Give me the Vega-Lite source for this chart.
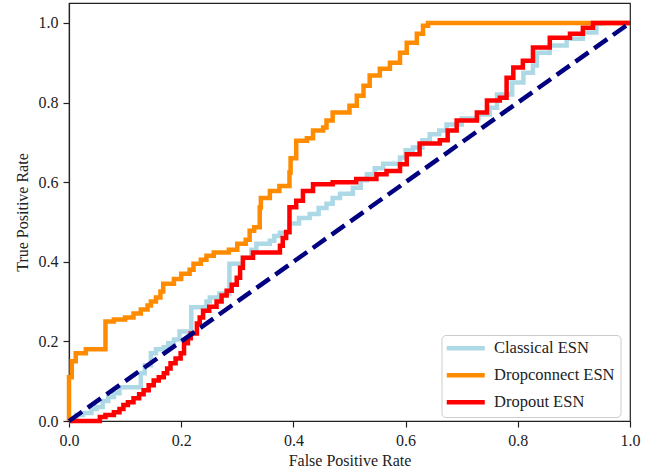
{
  "$schema": "https://vega.github.io/schema/vega-lite/v6.json",
  "width": 561,
  "height": 418,
  "autosize": "none",
  "padding": {"left": 69, "top": 3, "right": 30, "bottom": 50},
  "background": "white",
  "config": {
    "view": {"stroke": "#222", "strokeWidth": 1.2},
    "axis": {
      "grid": false,
      "labelFlush": false,
      "domainColor": "#222",
      "domainWidth": 1.2,
      "tickColor": "#222",
      "tickWidth": 1.2,
      "tickSize": 6,
      "labelFont": "Liberation Serif",
      "labelFontSize": 16,
      "labelColor": "#222",
      "labelPadding": 5,
      "titleFont": "Liberation Serif",
      "titleFontSize": 16,
      "titleFontWeight": "normal",
      "titleColor": "#222"
    },
    "legend": {
      "orient": "none",
      "legendX": 372.5,
      "legendY": 332,
      "title": null,
      "fillColor": "white",
      "strokeColor": "#cccccc",
      "cornerRadius": 4,
      "padding": 5,
      "labelFont": "Liberation Serif",
      "labelFontSize": 16.5,
      "labelColor": "#222",
      "symbolType": "M-1.6,0H6",
      "symbolSize": 100,
      "symbolStrokeWidth": 4.5,
      "labelOffset": 31,
      "rowPadding": 8
    }
  },
  "datasets": {
    "roc": [
      {"model": "Classical ESN", "fpr": 0, "tpr": 0},
      {"model": "Classical ESN", "fpr": 0.005, "tpr": 0.005},
      {"model": "Classical ESN", "fpr": 0.013, "tpr": 0.015},
      {"model": "Classical ESN", "fpr": 0.025, "tpr": 0.02},
      {"model": "Classical ESN", "fpr": 0.04, "tpr": 0.03},
      {"model": "Classical ESN", "fpr": 0.049, "tpr": 0.035},
      {"model": "Classical ESN", "fpr": 0.06, "tpr": 0.05},
      {"model": "Classical ESN", "fpr": 0.07, "tpr": 0.06},
      {"model": "Classical ESN", "fpr": 0.08, "tpr": 0.07},
      {"model": "Classical ESN", "fpr": 0.09, "tpr": 0.085},
      {"model": "Classical ESN", "fpr": 0.128, "tpr": 0.12},
      {"model": "Classical ESN", "fpr": 0.135, "tpr": 0.14},
      {"model": "Classical ESN", "fpr": 0.146, "tpr": 0.17},
      {"model": "Classical ESN", "fpr": 0.155, "tpr": 0.18},
      {"model": "Classical ESN", "fpr": 0.169, "tpr": 0.185},
      {"model": "Classical ESN", "fpr": 0.177, "tpr": 0.195},
      {"model": "Classical ESN", "fpr": 0.187, "tpr": 0.205},
      {"model": "Classical ESN", "fpr": 0.197, "tpr": 0.225},
      {"model": "Classical ESN", "fpr": 0.218, "tpr": 0.286},
      {"model": "Classical ESN", "fpr": 0.245, "tpr": 0.3},
      {"model": "Classical ESN", "fpr": 0.251, "tpr": 0.31},
      {"model": "Classical ESN", "fpr": 0.268, "tpr": 0.32},
      {"model": "Classical ESN", "fpr": 0.286, "tpr": 0.395},
      {"model": "Classical ESN", "fpr": 0.31, "tpr": 0.41},
      {"model": "Classical ESN", "fpr": 0.325, "tpr": 0.43},
      {"model": "Classical ESN", "fpr": 0.334, "tpr": 0.445},
      {"model": "Classical ESN", "fpr": 0.358, "tpr": 0.453},
      {"model": "Classical ESN", "fpr": 0.366, "tpr": 0.465},
      {"model": "Classical ESN", "fpr": 0.376, "tpr": 0.473},
      {"model": "Classical ESN", "fpr": 0.393, "tpr": 0.496},
      {"model": "Classical ESN", "fpr": 0.41, "tpr": 0.51},
      {"model": "Classical ESN", "fpr": 0.429, "tpr": 0.52},
      {"model": "Classical ESN", "fpr": 0.445, "tpr": 0.535},
      {"model": "Classical ESN", "fpr": 0.459, "tpr": 0.546},
      {"model": "Classical ESN", "fpr": 0.47, "tpr": 0.56},
      {"model": "Classical ESN", "fpr": 0.483, "tpr": 0.571},
      {"model": "Classical ESN", "fpr": 0.506, "tpr": 0.586},
      {"model": "Classical ESN", "fpr": 0.52, "tpr": 0.605},
      {"model": "Classical ESN", "fpr": 0.531, "tpr": 0.62},
      {"model": "Classical ESN", "fpr": 0.545, "tpr": 0.635},
      {"model": "Classical ESN", "fpr": 0.56, "tpr": 0.646},
      {"model": "Classical ESN", "fpr": 0.59, "tpr": 0.662},
      {"model": "Classical ESN", "fpr": 0.6, "tpr": 0.68},
      {"model": "Classical ESN", "fpr": 0.613, "tpr": 0.687},
      {"model": "Classical ESN", "fpr": 0.63, "tpr": 0.705},
      {"model": "Classical ESN", "fpr": 0.643, "tpr": 0.72},
      {"model": "Classical ESN", "fpr": 0.66, "tpr": 0.73},
      {"model": "Classical ESN", "fpr": 0.673, "tpr": 0.745},
      {"model": "Classical ESN", "fpr": 0.7, "tpr": 0.76},
      {"model": "Classical ESN", "fpr": 0.73, "tpr": 0.77},
      {"model": "Classical ESN", "fpr": 0.75, "tpr": 0.787},
      {"model": "Classical ESN", "fpr": 0.763, "tpr": 0.82},
      {"model": "Classical ESN", "fpr": 0.79, "tpr": 0.85},
      {"model": "Classical ESN", "fpr": 0.81, "tpr": 0.875},
      {"model": "Classical ESN", "fpr": 0.827, "tpr": 0.893},
      {"model": "Classical ESN", "fpr": 0.834, "tpr": 0.925},
      {"model": "Classical ESN", "fpr": 0.857, "tpr": 0.943},
      {"model": "Classical ESN", "fpr": 0.887, "tpr": 0.96},
      {"model": "Classical ESN", "fpr": 0.916, "tpr": 0.976},
      {"model": "Classical ESN", "fpr": 0.94, "tpr": 0.998},
      {"model": "Classical ESN", "fpr": 0.95, "tpr": 1.0},
      {"model": "Classical ESN", "fpr": 1.0, "tpr": 1.0},

      {"model": "Dropconnect ESN", "fpr": 0, "tpr": 0},
      {"model": "Dropconnect ESN", "fpr": 0, "tpr": 0.11},
      {"model": "Dropconnect ESN", "fpr": 0.005, "tpr": 0.15},
      {"model": "Dropconnect ESN", "fpr": 0.012, "tpr": 0.17},
      {"model": "Dropconnect ESN", "fpr": 0.03, "tpr": 0.18},
      {"model": "Dropconnect ESN", "fpr": 0.065, "tpr": 0.25},
      {"model": "Dropconnect ESN", "fpr": 0.08, "tpr": 0.255},
      {"model": "Dropconnect ESN", "fpr": 0.1, "tpr": 0.26},
      {"model": "Dropconnect ESN", "fpr": 0.115, "tpr": 0.27},
      {"model": "Dropconnect ESN", "fpr": 0.128, "tpr": 0.28},
      {"model": "Dropconnect ESN", "fpr": 0.14, "tpr": 0.29},
      {"model": "Dropconnect ESN", "fpr": 0.146, "tpr": 0.3},
      {"model": "Dropconnect ESN", "fpr": 0.155, "tpr": 0.31},
      {"model": "Dropconnect ESN", "fpr": 0.163, "tpr": 0.325},
      {"model": "Dropconnect ESN", "fpr": 0.168, "tpr": 0.345},
      {"model": "Dropconnect ESN", "fpr": 0.187, "tpr": 0.357},
      {"model": "Dropconnect ESN", "fpr": 0.2, "tpr": 0.37},
      {"model": "Dropconnect ESN", "fpr": 0.215, "tpr": 0.38},
      {"model": "Dropconnect ESN", "fpr": 0.222, "tpr": 0.395},
      {"model": "Dropconnect ESN", "fpr": 0.235, "tpr": 0.405},
      {"model": "Dropconnect ESN", "fpr": 0.245, "tpr": 0.415},
      {"model": "Dropconnect ESN", "fpr": 0.258, "tpr": 0.423},
      {"model": "Dropconnect ESN", "fpr": 0.285, "tpr": 0.43},
      {"model": "Dropconnect ESN", "fpr": 0.3, "tpr": 0.445},
      {"model": "Dropconnect ESN", "fpr": 0.315, "tpr": 0.455},
      {"model": "Dropconnect ESN", "fpr": 0.322, "tpr": 0.478},
      {"model": "Dropconnect ESN", "fpr": 0.33, "tpr": 0.487},
      {"model": "Dropconnect ESN", "fpr": 0.34, "tpr": 0.536},
      {"model": "Dropconnect ESN", "fpr": 0.342, "tpr": 0.56},
      {"model": "Dropconnect ESN", "fpr": 0.358, "tpr": 0.578},
      {"model": "Dropconnect ESN", "fpr": 0.375, "tpr": 0.59},
      {"model": "Dropconnect ESN", "fpr": 0.393, "tpr": 0.624},
      {"model": "Dropconnect ESN", "fpr": 0.395, "tpr": 0.66},
      {"model": "Dropconnect ESN", "fpr": 0.405, "tpr": 0.704},
      {"model": "Dropconnect ESN", "fpr": 0.424, "tpr": 0.71},
      {"model": "Dropconnect ESN", "fpr": 0.435, "tpr": 0.73},
      {"model": "Dropconnect ESN", "fpr": 0.453, "tpr": 0.737},
      {"model": "Dropconnect ESN", "fpr": 0.459, "tpr": 0.755},
      {"model": "Dropconnect ESN", "fpr": 0.47, "tpr": 0.775},
      {"model": "Dropconnect ESN", "fpr": 0.5, "tpr": 0.792},
      {"model": "Dropconnect ESN", "fpr": 0.513, "tpr": 0.817},
      {"model": "Dropconnect ESN", "fpr": 0.525, "tpr": 0.842},
      {"model": "Dropconnect ESN", "fpr": 0.536, "tpr": 0.868},
      {"model": "Dropconnect ESN", "fpr": 0.554, "tpr": 0.885},
      {"model": "Dropconnect ESN", "fpr": 0.572, "tpr": 0.9},
      {"model": "Dropconnect ESN", "fpr": 0.59, "tpr": 0.925},
      {"model": "Dropconnect ESN", "fpr": 0.602, "tpr": 0.95},
      {"model": "Dropconnect ESN", "fpr": 0.62, "tpr": 0.973},
      {"model": "Dropconnect ESN", "fpr": 0.631, "tpr": 0.993},
      {"model": "Dropconnect ESN", "fpr": 0.64, "tpr": 1.0},
      {"model": "Dropconnect ESN", "fpr": 1.0, "tpr": 1.0},

      {"model": "Dropout ESN", "fpr": 0, "tpr": 0},
      {"model": "Dropout ESN", "fpr": 0.047, "tpr": 0},
      {"model": "Dropout ESN", "fpr": 0.055, "tpr": 0.01},
      {"model": "Dropout ESN", "fpr": 0.065, "tpr": 0.015},
      {"model": "Dropout ESN", "fpr": 0.08, "tpr": 0.022},
      {"model": "Dropout ESN", "fpr": 0.09, "tpr": 0.03},
      {"model": "Dropout ESN", "fpr": 0.097, "tpr": 0.04},
      {"model": "Dropout ESN", "fpr": 0.105, "tpr": 0.047},
      {"model": "Dropout ESN", "fpr": 0.115, "tpr": 0.057},
      {"model": "Dropout ESN", "fpr": 0.125, "tpr": 0.067},
      {"model": "Dropout ESN", "fpr": 0.133, "tpr": 0.077},
      {"model": "Dropout ESN", "fpr": 0.142, "tpr": 0.09},
      {"model": "Dropout ESN", "fpr": 0.151, "tpr": 0.102},
      {"model": "Dropout ESN", "fpr": 0.16, "tpr": 0.11},
      {"model": "Dropout ESN", "fpr": 0.169, "tpr": 0.12},
      {"model": "Dropout ESN", "fpr": 0.175, "tpr": 0.132},
      {"model": "Dropout ESN", "fpr": 0.181, "tpr": 0.145},
      {"model": "Dropout ESN", "fpr": 0.19, "tpr": 0.157},
      {"model": "Dropout ESN", "fpr": 0.199, "tpr": 0.17},
      {"model": "Dropout ESN", "fpr": 0.205, "tpr": 0.195},
      {"model": "Dropout ESN", "fpr": 0.212, "tpr": 0.208},
      {"model": "Dropout ESN", "fpr": 0.217, "tpr": 0.22},
      {"model": "Dropout ESN", "fpr": 0.228, "tpr": 0.245},
      {"model": "Dropout ESN", "fpr": 0.233, "tpr": 0.26},
      {"model": "Dropout ESN", "fpr": 0.239, "tpr": 0.277},
      {"model": "Dropout ESN", "fpr": 0.25, "tpr": 0.287},
      {"model": "Dropout ESN", "fpr": 0.263, "tpr": 0.3},
      {"model": "Dropout ESN", "fpr": 0.272, "tpr": 0.315},
      {"model": "Dropout ESN", "fpr": 0.281, "tpr": 0.327},
      {"model": "Dropout ESN", "fpr": 0.29, "tpr": 0.342},
      {"model": "Dropout ESN", "fpr": 0.299, "tpr": 0.36},
      {"model": "Dropout ESN", "fpr": 0.305, "tpr": 0.385},
      {"model": "Dropout ESN", "fpr": 0.31, "tpr": 0.41},
      {"model": "Dropout ESN", "fpr": 0.328, "tpr": 0.423},
      {"model": "Dropout ESN", "fpr": 0.376, "tpr": 0.44},
      {"model": "Dropout ESN", "fpr": 0.381, "tpr": 0.46},
      {"model": "Dropout ESN", "fpr": 0.387, "tpr": 0.475},
      {"model": "Dropout ESN", "fpr": 0.393, "tpr": 0.537},
      {"model": "Dropout ESN", "fpr": 0.405, "tpr": 0.553},
      {"model": "Dropout ESN", "fpr": 0.417, "tpr": 0.578},
      {"model": "Dropout ESN", "fpr": 0.435, "tpr": 0.595},
      {"model": "Dropout ESN", "fpr": 0.47, "tpr": 0.6},
      {"model": "Dropout ESN", "fpr": 0.512, "tpr": 0.608},
      {"model": "Dropout ESN", "fpr": 0.548, "tpr": 0.62},
      {"model": "Dropout ESN", "fpr": 0.566, "tpr": 0.628},
      {"model": "Dropout ESN", "fpr": 0.59, "tpr": 0.645},
      {"model": "Dropout ESN", "fpr": 0.602, "tpr": 0.67},
      {"model": "Dropout ESN", "fpr": 0.625, "tpr": 0.697},
      {"model": "Dropout ESN", "fpr": 0.661, "tpr": 0.705},
      {"model": "Dropout ESN", "fpr": 0.675, "tpr": 0.73},
      {"model": "Dropout ESN", "fpr": 0.691, "tpr": 0.755},
      {"model": "Dropout ESN", "fpr": 0.727, "tpr": 0.775},
      {"model": "Dropout ESN", "fpr": 0.745, "tpr": 0.805},
      {"model": "Dropout ESN", "fpr": 0.768, "tpr": 0.812},
      {"model": "Dropout ESN", "fpr": 0.78, "tpr": 0.862},
      {"model": "Dropout ESN", "fpr": 0.792, "tpr": 0.888},
      {"model": "Dropout ESN", "fpr": 0.809, "tpr": 0.905},
      {"model": "Dropout ESN", "fpr": 0.827, "tpr": 0.938},
      {"model": "Dropout ESN", "fpr": 0.857, "tpr": 0.963},
      {"model": "Dropout ESN", "fpr": 0.893, "tpr": 0.973},
      {"model": "Dropout ESN", "fpr": 0.916, "tpr": 0.988},
      {"model": "Dropout ESN", "fpr": 0.934, "tpr": 1.0},
      {"model": "Dropout ESN", "fpr": 1.0, "tpr": 1.0}
    ],
    "diag": [
      {"fpr": 0, "tpr": 0},
      {"fpr": 1, "tpr": 1}
    ]
  },
  "layer": [
    {
      "data": {"name": "roc"},
      "mark": {"type": "line", "interpolate": "step-after", "strokeWidth": 4.5},
      "encoding": {
        "x": {
          "field": "fpr",
          "type": "quantitative",
          "scale": {"domain": [0, 1], "nice": false, "zero": false},
          "axis": {"title": "False Positive Rate", "values": [0, 0.2, 0.4, 0.6, 0.8, 1.0], "format": ".1f", "titlePadding": 4, "labelFont": "Liberation Serif", "labelFontSize": 16, "titleFont": "Liberation Serif", "titleFontSize": 16}
        },
        "y": {
          "field": "tpr",
          "type": "quantitative",
          "scale": {"domain": [0, 1.05], "nice": false, "zero": false},
          "axis": {"title": "True Positive Rate", "values": [0, 0.2, 0.4, 0.6, 0.8, 1.0], "format": ".1f", "titlePadding": 8, "labelFont": "Liberation Serif", "labelFontSize": 16, "titleFont": "Liberation Serif", "titleFontSize": 16}
        },
        "color": {
          "field": "model",
          "type": "nominal",
          "scale": {
            "domain": ["Classical ESN", "Dropconnect ESN", "Dropout ESN"],
            "range": ["#ADD8E6", "#FF8C00", "#FF0000"]
          }
        },
        "order": {"value": null}
      }
    },
    {
      "data": {"name": "diag"},
      "mark": {"type": "line", "color": "#000080", "strokeWidth": 4.5, "strokeDash": [16, 7]},
      "encoding": {
        "x": {"field": "fpr", "type": "quantitative"},
        "y": {"field": "tpr", "type": "quantitative"}
      }
    }
  ]
}
